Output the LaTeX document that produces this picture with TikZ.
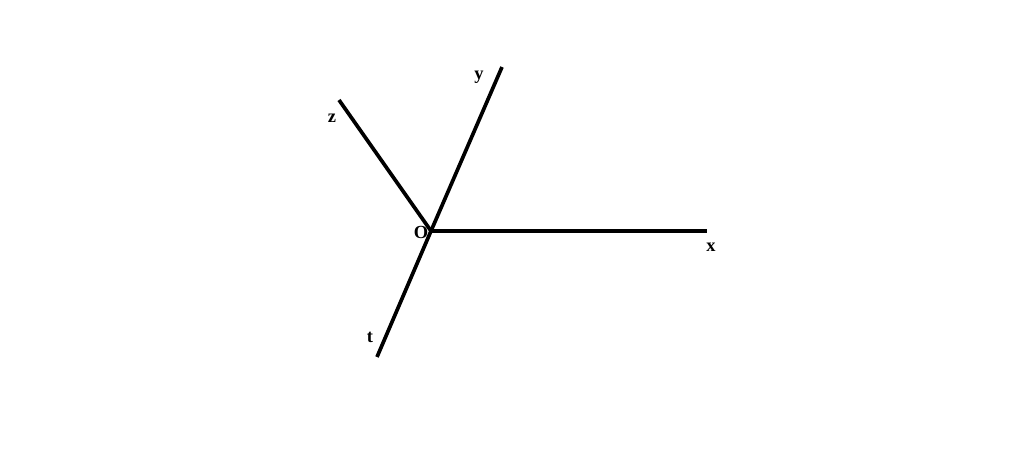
\documentclass[tikz,border=0pt]{standalone}
\usepackage{fontspec}
\setmainfont{Liberation Serif}
\begin{document}
\begin{tikzpicture}[x=0.02cm,y=-0.02cm,axis/.style={line width=2.1pt},lbl/.style={font=\fontsize{10.5}{12}\selectfont\bfseries,inner sep=0pt}]
\useasboundingbox (0,0) rectangle (1024,469);

% ends of the lines
\coordinate (o) at (431,231);
\coordinate (ex) at (707,231);
\coordinate (ey) at (502,67);
\coordinate (ez) at (339,100);
\coordinate (et) at (377,357);

\draw[axis] (o) -- (ex);
\draw[axis] (o) -- (ey);
\draw[axis] (o) -- (ez);
\draw[axis] (o) -- (et);

% labels
\node[lbl] (lo) at (421,232) {O};
\node[lbl] (lx) at (711,247) {x};
\node[lbl] (ly) at (479,77) {y};
\node[lbl] (lz) at (332,118) {z};
\node[lbl] (lt) at (370,337) {t};

\end{tikzpicture}
\end{document}
